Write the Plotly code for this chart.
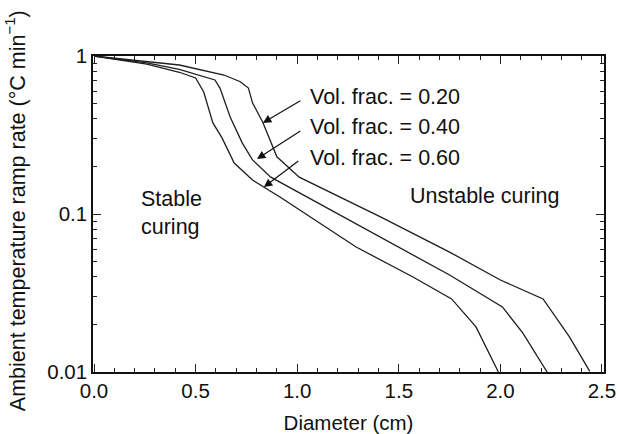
import math
import plotly.graph_objects as go

# ---- data ----
diam_020 = [0.0, 0.26, 0.42, 0.64, 0.72, 0.76, 0.78, 0.83, 0.90, 1.01, 1.41, 1.75, 2.00, 2.21, 2.34, 2.44]
rate_020 = [1.0, 0.92, 0.877, 0.758, 0.687, 0.627, 0.505, 0.382, 0.230, 0.171, 0.0958, 0.0574, 0.0382, 0.029, 0.0167, 0.0101]

diam_040 = [0.0, 0.26, 0.42, 0.595, 0.62, 0.67, 0.73, 0.78, 0.87, 1.41, 1.75, 2.01, 2.11, 2.23]
rate_040 = [1.0, 0.904, 0.824, 0.705, 0.627, 0.411, 0.281, 0.220, 0.171, 0.0715, 0.0411, 0.0258, 0.0177, 0.01]

diam_060 = [0.0, 0.26, 0.42, 0.50, 0.54, 0.56, 0.585, 0.63, 0.69, 0.78, 0.915, 1.29, 1.57, 1.76, 1.88, 1.99]
rate_060 = [1.0, 0.889, 0.789, 0.726, 0.592, 0.49, 0.377, 0.303, 0.210, 0.164, 0.128, 0.0618, 0.0399, 0.029, 0.0193, 0.01]

series_labels = ["Vol. frac. = 0.20", "Vol. frac. = 0.40", "Vol. frac. = 0.60"]
x_tickvals = [0.0, 0.5, 1.0, 1.5, 2.0, 2.5]
x_ticktext = ["0.0", "0.5", "1.0", "1.5", "2.0", "2.5"]
y_tickvals = [0.01, 0.1, 1]
y_ticktext = ["0.01", "0.1", "1"]
y_minor = [m * d for d in (0.01, 0.1) for m in range(2, 10)]
y_title = "Ambient temperature ramp rate (°C min<sup>−1</sup>)"

FONT = "Liberation Sans, Arial, Helvetica, sans-serif"
LINE = "#1e1e1e"
TXT = "#111"

fig = go.Figure()
for xs, ys, name in [(diam_020, rate_020, series_labels[0]),
                     (diam_040, rate_040, series_labels[1]),
                     (diam_060, rate_060, series_labels[2])]:
    fig.add_trace(go.Scatter(x=xs, y=ys, mode="lines", name=name,
                             line=dict(color=LINE, width=1.3), showlegend=False))

L = math.log10
annotations = []
# series labels
label_y = [10 ** -0.259, 10 ** -0.449, 10 ** -0.646]
for txt, yv in zip(series_labels, label_y):
    annotations.append(dict(x=1.053, y=L(yv), xref="x", yref="y", text=txt,
                            showarrow=False, xanchor="left", yanchor="middle",
                            font=dict(family=FONT, size=21.5, color=TXT)))
# arrows (head, tail)
arrows = [((0.831, 0.377), (1.023, 0.527)),
          ((0.802, 0.223), (1.023, 0.340)),
          ((0.836, 0.148), (1.013, 0.220))]
for (hx, hy), (tx, ty) in arrows:
    annotations.append(dict(x=hx, y=L(hy), ax=tx, ay=L(ty), xref="x", yref="y",
                            axref="x", ayref="y", text="", showarrow=True,
                            arrowhead=2, arrowsize=1.4, arrowwidth=1.2,
                            arrowcolor=TXT))
annotations.append(dict(x=1.545, y=L(0.13), xref="x", yref="y", text="Unstable curing",
                        showarrow=False, xanchor="left", yanchor="middle",
                        font=dict(family=FONT, size=21.5, color=TXT)))
annotations.append(dict(x=0.221, y=L(0.101), xref="x", yref="y", text="Stable<br>curing",
                        showarrow=False, xanchor="left", yanchor="middle", align="left",
                        font=dict(family=FONT, size=21.5, color=TXT)))
# y-axis title placed as a rotated annotation
annotations.append(dict(x=-0.152, y=0.51, xref="paper", yref="paper", text=y_title,
                        textangle=-90, showarrow=False, xanchor="center", yanchor="middle",
                        font=dict(family=FONT, size=21.5, color=TXT)))

fig.update_layout(
    width=618, height=434,
    margin=dict(l=93, r=14, t=56, b=62, autoexpand=False),
    paper_bgcolor="white", plot_bgcolor="white",
    font=dict(family=FONT, size=20, color=TXT),
    annotations=annotations,
    xaxis=dict(
        range=[-0.005, 2.51], tickmode="array", tickvals=x_tickvals, ticktext=x_ticktext,
        ticks="inside", ticklen=8, tickwidth=1.2, tickcolor="#222",
        minor=dict(dtick=0.1, tick0=0, ticks="inside", ticklen=4, tickwidth=1, tickcolor="#222", showgrid=False),
        showline=True, linecolor=TXT, linewidth=1.5, mirror="allticks",
        showgrid=False, zeroline=False, automargin=False,
        tickfont=dict(family=FONT, size=20.5, color=TXT),
        title=dict(text="Diameter (cm)", font=dict(family=FONT, size=20.5, color=TXT), standoff=28),
    ),
    yaxis=dict(
        type="log", range=[-2, 0], tickmode="array", tickvals=y_tickvals, ticktext=y_ticktext,
        ticks="inside", ticklen=8, tickwidth=1.2, tickcolor="#222",
        minor=dict(tickmode="array", tickvals=y_minor, ticks="inside", ticklen=4, tickwidth=1, tickcolor="#222", showgrid=False),
        showline=True, linecolor=TXT, linewidth=1.5, mirror="allticks",
        showgrid=False, zeroline=False, automargin=False,
        tickfont=dict(family=FONT, size=20.5, color=TXT),
    ),
)

fig.write_html("out.html")
